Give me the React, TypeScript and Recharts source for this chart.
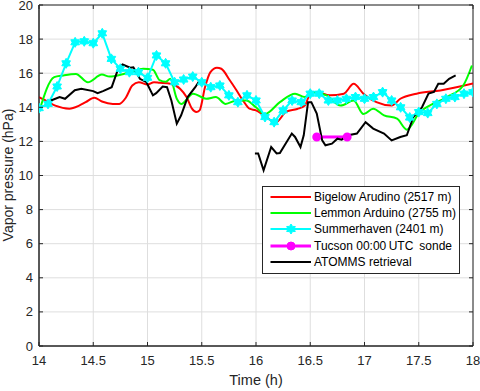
import React from 'react';
import { LineChart, Line, XAxis, YAxis, CartesianGrid, Legend, ReferenceArea } from 'recharts';

// ---------- data ----------
const xTicks = [14, 14.5, 15, 15.5, 16, 16.5, 17, 17.5, 18];
const yTicks = [0, 2, 4, 6, 8, 10, 12, 14, 16, 18, 20];

const bigelowT = [14.0, 14.06, 14.15, 14.28, 14.37, 14.43, 14.51, 14.58, 14.68, 14.74, 14.8, 14.86, 14.92, 15.0, 15.06, 15.11, 15.21, 15.3, 15.36, 15.41, 15.45, 15.48, 15.53, 15.58, 15.64, 15.68, 15.76, 15.82, 15.88, 15.94, 16.0, 16.08, 16.18, 16.28, 16.38, 16.45, 16.5, 16.56, 16.68, 16.81, 16.9, 16.99, 17.11, 17.25, 17.33, 17.48, 17.7, 18.0];
const bigelowV = [14.6, 14.4, 14.1, 13.92, 14.1, 14.3, 14.56, 14.34, 14.2, 14.2, 14.56, 15.28, 15.47, 15.34, 15.47, 15.44, 15.38, 15.09, 14.6, 13.92, 13.72, 13.82, 15.18, 16.06, 16.32, 16.26, 15.57, 15.0, 14.4, 13.92, 13.82, 13.5, 13.1, 13.75, 13.9, 14.1, 14.8, 14.89, 14.7, 14.8, 15.38, 14.8, 14.3, 14.1, 14.5, 14.8, 14.99, 15.4];

const lemmonT = [14.0, 14.14, 14.22, 14.34, 14.45, 14.58, 14.65, 14.76, 14.84, 14.96, 15.05, 15.11, 15.17, 15.21, 15.27, 15.31, 15.42, 15.54, 15.63, 15.72, 15.82, 15.91, 16.0, 16.08, 16.22, 16.36, 16.45, 16.53, 16.65, 16.78, 16.9, 16.99, 17.08, 17.18, 17.3, 17.39, 17.51, 17.6, 17.76, 17.91, 17.99];
const lemmonV = [13.72, 15.77, 15.87, 15.96, 15.47, 15.92, 15.8, 15.92, 16.06, 16.26, 16.2, 15.6, 15.5, 15.67, 14.5, 14.2, 14.8, 14.5, 14.6, 14.2, 14.4, 14.4, 14.0, 13.6, 14.3, 14.8, 14.6, 14.89, 14.7, 14.1, 14.4, 13.6, 13.92, 13.53, 13.33, 12.69, 13.72, 14.1, 14.6, 15.28, 16.45];

const summerT = [14.0, 14.083, 14.167, 14.25, 14.333, 14.417, 14.5, 14.583, 14.667, 14.75, 14.833, 14.917, 15.0, 15.083, 15.167, 15.25, 15.333, 15.417, 15.5, 15.583, 15.667, 15.75, 15.833, 15.917, 16.0, 16.083, 16.167, 16.25, 16.333, 16.417, 16.5, 16.583, 16.667, 16.75, 16.833, 16.917, 17.0, 17.083, 17.167, 17.25, 17.333, 17.417, 17.5, 17.583, 17.667, 17.75, 17.833, 17.917, 18.0];
const summerV = [13.95, 14.2, 15.22, 16.58, 17.81, 17.87, 17.76, 18.34, 16.84, 16.26, 16.06, 16.06, 15.73, 17.04, 16.58, 15.47, 15.63, 15.8, 15.47, 15.18, 15.28, 14.7, 14.3, 14.7, 14.4, 13.43, 13.13, 13.82, 14.4, 14.3, 14.8, 14.8, 14.4, 14.4, 14.5, 14.6, 14.5, 14.6, 14.89, 14.4, 14.0, 13.4, 13.72, 13.66, 14.2, 14.5, 14.6, 14.8, 14.89];

const tucsonT = [16.56, 16.84];
const tucsonV = [12.26, 12.26];

const atommsT = [14.11, 14.19, 14.24, 14.33, 14.39, 14.5, 14.54, 14.59, 14.67, 14.73, 14.77, 14.84, 14.87, 14.93, 14.99, 15.05, 15.08, 15.14, 15.18, 15.22, 15.27, 15.31, 15.37, 15.44, 15.48, 15.75, 15.99, 16.02, 16.07, 16.14, 16.19, 16.22, 16.33, 16.36, 16.41, 16.44, 16.48, 16.51, 16.56, 16.61, 16.64, 16.7, 16.75, 16.79, 16.85, 16.93, 17.01, 17.08, 17.18, 17.25, 17.33, 17.39, 17.45, 17.53, 17.59, 17.64, 17.68, 17.73, 17.78, 17.84];
const atommsV = [14.4, 14.6, 14.5, 15.0, 15.09, 14.95, 14.83, 14.95, 15.18, 16.26, 16.51, 16.32, 16.35, 15.67, 15.47, 14.7, 14.83, 15.22, 15.18, 14.4, 13.04, 13.53, 14.6, 15.18, 15.57, null, 11.29, 11.29, 10.31, 11.67, 11.29, 11.32, 12.46, 12.26, 11.67, 12.36, 14.3, 14.3, 13.63, 12.06, 11.77, 11.87, 12.16, 12.1, 12.36, 12.46, 13.13, 12.75, 12.46, 12.06, 12.26, 12.36, 13.43, 14.0, 14.8, 14.9, 15.38, 15.38, 15.67, 15.87];

const seriesNames = [
  'Bigelow Arudino (2517 m)',
  'Lemmon Arduino (2755 m)',
  'Summerhaven (2401 m)',
  'Tucson 00:00\u2009UTC\u2002sonde',
  'ATOMMS retrieval',
];

// ---------- helpers ----------
const zip = (ts: number[], vs: (number | null)[]) => ts.map((t, i) => ({ t, v: vs[i] }));

const bigelowData = zip(bigelowT, bigelowV);
const lemmonData = zip(lemmonT, lemmonV);
const summerData = zip(summerT, summerV);
const tucsonData = zip(tucsonT, tucsonV);
const atommsData = zip(atommsT, atommsV);

const W = 480;
const H = 391;
const PLOT_TOP = 5;
const PLOT_LEFT = 39;
const PLOT_RIGHT = 473;
const PLOT_BOTTOM = 346;
const AXIS_COLOR = '#262626';
const FONT = '"Liberation Sans", Arial, Helvetica, sans-serif';

const hexPoints = (cx: number, cy: number, R: number, r: number) => {
  const pts: string[] = [];
  for (let i = 0; i < 12; i++) {
    const a = (Math.PI / 180) * (90 + i * 30);
    const rad = i % 2 === 0 ? R : r;
    pts.push(`${cx + rad * Math.cos(a)},${cy - rad * Math.sin(a)}`);
  }
  return pts.join(' ');
};

const HexDot = (props: any) => {
  const { cx, cy, index } = props;
  if (cx == null || cy == null) return <g key={index} />;
  return <polygon key={index} points={hexPoints(cx, cy, 5, 3)} fill="#00ffff" stroke="#00ffff" strokeWidth={1} />;
};

const XTick = (props: any) => {
  const { x, y, payload } = props;
  return (
    <g>
      <line x1={x} x2={x} y1={PLOT_BOTTOM} y2={PLOT_BOTTOM - 4} stroke={AXIS_COLOR} />
      <line x1={x} x2={x} y1={PLOT_TOP} y2={PLOT_TOP + 4} stroke={AXIS_COLOR} />
      <text x={x} y={y + 10} dy="0.71em" textAnchor="middle" fill={AXIS_COLOR} fontSize={13}>
        {payload.value}
      </text>
    </g>
  );
};

const YTick = (props: any) => {
  const { x, y, payload } = props;
  return (
    <g>
      <line x1={PLOT_LEFT} x2={PLOT_LEFT + 4} y1={y} y2={y} stroke={AXIS_COLOR} />
      <line x1={PLOT_RIGHT} x2={PLOT_RIGHT - 4} y1={y} y2={y} stroke={AXIS_COLOR} />
      <text x={x - 6} y={y} dy="0.35em" textAnchor="end" fill={AXIS_COLOR} fontSize={13}>
        {payload.value}
      </text>
    </g>
  );
};

const YLabel = () => (
  <text x={12.5} y={175} transform="rotate(-90 12.5 175)" textAnchor="middle" fill={AXIS_COLOR} fontSize={14}>
    Vapor pressure (hPa)
  </text>
);

const XLabel = () => (
  <text x={256} y={385} textAnchor="middle" fill={AXIS_COLOR} fontSize={14.5}>
    Time (h)
  </text>
);

const legendStyles = [
  { color: '#ff0000', width: 2, marker: 'none' },
  { color: '#00ff00', width: 2, marker: 'none' },
  { color: '#00ffff', width: 2, marker: 'hex' },
  { color: '#ff00ff', width: 3, marker: 'circle' },
  { color: '#000000', width: 2, marker: 'none' },
];

const renderLegend = () => (
  <div
    style={{
      border: `1px solid ${AXIS_COLOR}`,
      background: '#fff',
      width: 198,
      height: 88,
      boxSizing: 'border-box',
      paddingTop: 1.5,
      fontFamily: FONT,
      fontSize: 12,
      color: '#000',
    }}
  >
    {seriesNames.map((name, i) => {
      const s = legendStyles[i];
      return (
        <div key={name} style={{ display: 'flex', alignItems: 'center', height: 16.3 }}>
          <svg width={51} height={16} style={{ display: 'block' }}>
            <line x1={7.5} x2={48} y1={8} y2={8} stroke={s.color} strokeWidth={s.width} />
            {s.marker === 'hex' && <polygon points={hexPoints(28, 8, 5, 3)} fill={s.color} stroke={s.color} />}
            {s.marker === 'circle' && <circle cx={28} cy={8} r={4} fill={s.color} stroke={s.color} />}
          </svg>
          <span style={{ whiteSpace: 'pre' }}>{name}</span>
        </div>
      );
    })}
  </div>
);

export default function App() {
  return (
    <div style={{ position: 'absolute', left: 0, top: 0, width: W, height: H, background: '#fff', fontFamily: FONT }}>
      <LineChart width={W} height={H} margin={{ top: PLOT_TOP, right: W - PLOT_RIGHT, left: 0, bottom: 0 }}>
        <CartesianGrid stroke="#dedede" strokeWidth={1} />
        <XAxis
          dataKey="t"
          type="number"
          domain={[14, 18]}
          ticks={xTicks}
          allowDataOverflow
          height={H - PLOT_BOTTOM}
          tickSize={0}
          tickMargin={0}
          tickLine={false}
          tick={<XTick />}
          stroke={AXIS_COLOR}
          label={<XLabel />}
          interval={0}
        />
        <YAxis
          type="number"
          domain={[0, 20]}
          ticks={yTicks}
          width={PLOT_LEFT}
          tickSize={0}
          tickMargin={0}
          tickLine={false}
          tick={<YTick />}
          stroke={AXIS_COLOR}
          label={<YLabel />}
          interval={0}
        />
        <ReferenceArea x1={14} x2={18} y1={0} y2={20} fill="none" stroke={AXIS_COLOR} strokeWidth={1} />
        <Line data={bigelowData} dataKey="v" name={seriesNames[0]} type="monotone" stroke="#ff0000" strokeWidth={2} dot={false} isAnimationActive={false} />
        <Line data={lemmonData} dataKey="v" name={seriesNames[1]} type="monotone" stroke="#00ff00" strokeWidth={2} dot={false} isAnimationActive={false} />
        <Line data={summerData} dataKey="v" name={seriesNames[2]} type="linear" stroke="#00ffff" strokeWidth={2} dot={<HexDot />} isAnimationActive={false} />
        <Line data={tucsonData} dataKey="v" name={seriesNames[3]} type="linear" stroke="#ff00ff" strokeWidth={3} dot={{ r: 3.5, fill: '#ff00ff', stroke: '#ff00ff', strokeWidth: 2 }} isAnimationActive={false} />
        <Line data={atommsData} dataKey="v" name={seriesNames[4]} type="linear" stroke="#000000" strokeWidth={2} dot={false} connectNulls={false} isAnimationActive={false} />
        <Legend
          layout="horizontal"
          verticalAlign="middle"
          align="center"
          content={renderLegend}
          wrapperStyle={{ left: 262, top: 186, width: 198, height: 88 }}
        />
      </LineChart>
    </div>
  );
}
